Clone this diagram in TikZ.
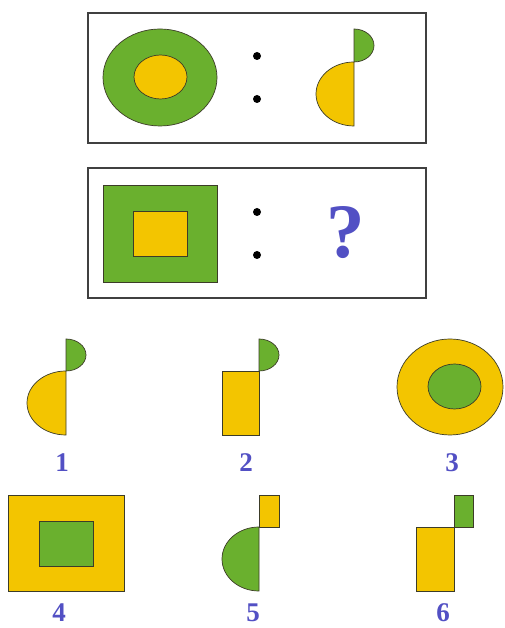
\documentclass[tikz,border=0pt]{standalone}
\usepackage{fontspec}
\setmainfont{Liberation Serif}
\definecolor{fgreen}{RGB}{106,176,46}
\definecolor{fyellow}{RGB}{243,197,0}
\definecolor{lblue}{RGB}{82,80,196}
\definecolor{edge}{RGB}{60,60,40}
\begin{document}
\begin{tikzpicture}[x=1pt,y=1pt,
  frame/.style={draw=black!75,line width=1.2pt},
  gshape/.style={fill=fgreen,draw=edge,line width=0.7pt},
  yshape/.style={fill=fyellow,draw=edge,line width=0.7pt},
  dot/.style={fill=black},
  lbl/.style={text=lblue,font=\fontsize{27}{27}\selectfont\bfseries,anchor=base,inner sep=0pt},
  qmark/.style={text=lblue,font=\fontsize{77}{77}\selectfont\bfseries,anchor=base,inner sep=0pt}]
\useasboundingbox (0,0) rectangle (505,628);
\fill[white] (0,0) rectangle (505,628);
% top panel
\draw[frame] (88,615) rectangle (426,485);
\draw[gshape] (160,550.5) ellipse[x radius=57,y radius=48.5];
\draw[yshape] (160.5,551) ellipse[x radius=26.5,y radius=22];
\fill[dot] (257,572) circle[radius=4];
\fill[dot] (257,529) circle[radius=4];
\draw[gshape] (354,599) arc[start angle=90,end angle=-90,x radius=20,y radius=16.5] -- cycle;
\draw[yshape] (354,566) arc[start angle=90,end angle=270,x radius=38,y radius=32] -- cycle;
% second panel
\draw[frame] (88,460) rectangle (426,330);
\draw[gshape] (103,443) rectangle (217,346);
\draw[yshape] (133,417) rectangle (187,372);
\fill[dot] (257,416) circle[radius=4];
\fill[dot] (257,373) circle[radius=4];
\node[qmark] (q) at (346,370) {?};
% option 1
\draw[gshape] (66,289) arc[start angle=90,end angle=-90,x radius=20,y radius=16] -- cycle;
\draw[yshape] (66,257) arc[start angle=90,end angle=270,x radius=39,y radius=32] -- cycle;
\node[lbl] (l1) at (62,156) {1};
% option 2
\draw[gshape] (259,289) arc[start angle=90,end angle=-90,x radius=20,y radius=16] -- cycle;
\draw[yshape] (222,257) rectangle (259,193);
\node[lbl] (l2) at (246,156) {2};
% option 3
\draw[yshape] (450,241) ellipse[x radius=53,y radius=48];
\draw[gshape] (454.5,241.5) ellipse[x radius=26.5,y radius=22.5];
\node[lbl] (l3) at (452,156) {3};
% option 4
\draw[yshape] (8,133) rectangle (124,37);
\draw[gshape] (39,107) rectangle (93,62);
\node[lbl] (l4) at (59,6) {4};
% option 5
\draw[yshape] (259,133) rectangle (279,101);
\draw[gshape] (259,101) arc[start angle=90,end angle=270,x radius=37,y radius=32] -- cycle;
\node[lbl] (l5) at (253,6) {5};
% option 6
\draw[yshape] (416,101) rectangle (454,37);
\draw[gshape] (454,133) rectangle (473,101);
\node[lbl] (l6) at (443,6) {6};
\end{tikzpicture}
\end{document}
